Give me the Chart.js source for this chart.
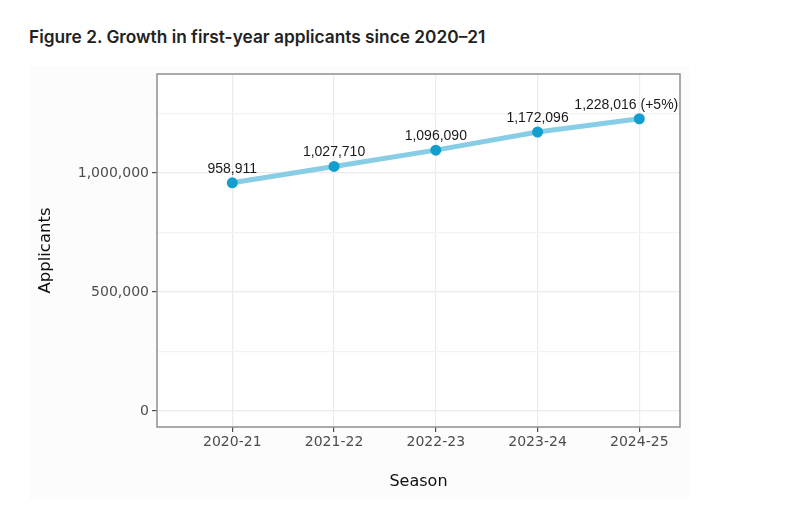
<!DOCTYPE html>
<html>
<head>
<meta charset="utf-8">
<script src="https://cdn.jsdelivr.net/npm/chart.js@4.4.1/dist/chart.umd.min.js"></script>
<style>
  body { margin: 0; background: #ffffff; }
  #title {
    position: absolute; left: 29px; top: 26px;
    font-family: "Inter", sans-serif; font-weight: 600; font-size: 17.3px;
    color: #222222; white-space: nowrap;
  }
  #figbg {
    position: absolute; left: 29px; top: 66px; width: 660px; height: 433px;
    background: #fcfcfc;
  }
  #wrap { position: absolute; left: 0; top: 0; width: 786px; height: 511px; }
</style>
</head>
<body>
<div id="title">Figure 2. Growth in first-year applicants since 2020–21</div>
<div id="figbg"></div>
<div id="wrap"><canvas id="chart" width="786" height="511"></canvas></div>
<script>
// Data
const seasons = ['2020-21', '2021-22', '2022-23', '2023-24', '2024-25'];
const applicants = [958911, 1027710, 1096090, 1172096, 1228016];
const pointLabels = ['958,911', '1,027,710', '1,096,090', '1,172,096', '1,228,016 (+5%)'];
const yTickValues = [0, 250000, 500000, 750000, 1000000, 1250000];
const yMajorTicks = [0, 500000, 1000000];

// panel background + border (ggplot-ish look)
const panelPlugin = {
    id: 'panel',
    beforeDraw(chart) {
        const a = chart.chartArea;
        const ctx = chart.ctx;
        ctx.save();
        ctx.fillStyle = '#ffffff';
        ctx.fillRect(a.left, a.top, a.right - a.left, a.bottom - a.top);
        ctx.restore();
    },
    afterDraw(chart) {
        const a = chart.chartArea;
        const ctx = chart.ctx;
        ctx.save();
        ctx.strokeStyle = '#8f8f8f';
        ctx.lineWidth = 1.5;
        ctx.strokeRect(a.left, a.top, a.right - a.left, a.bottom - a.top);
        ctx.restore();
    }
};

// value labels above each point
const labelPlugin = {
    id: 'pointLabels',
    afterDatasetsDraw(chart) {
        const ctx = chart.ctx;
        const pts = chart.getDatasetMeta(0).data;
        ctx.save();
        ctx.font = '14px "Liberation Sans", Arial, sans-serif';
        ctx.fillStyle = '#1a1a1a';
        ctx.textAlign = 'center';
        ctx.textBaseline = 'alphabetic';
        pts.forEach((p, i) => {
            let x = p.x;
            // keep the long last label inside the panel
            if (i === pts.length - 1) x -= 13;
            ctx.fillText(pointLabels[i], x, p.y - 10);
        });
        ctx.restore();
    }
};

const ctx = document.getElementById('chart').getContext('2d');
new Chart(ctx, {
    type: 'line',
    data: {
        datasets: [{
            data: applicants.map((v, i) => ({ x: i, y: v })),
            borderColor: '#87cde6',
            borderWidth: 5,
            pointRadius: 5.5,
            pointHoverRadius: 5.5,
            pointBackgroundColor: '#139fcd',
            pointBorderWidth: 0,
            tension: 0
        }]
    },
    options: {
        responsive: false,
        animation: false,
        layout: { padding: { left: 30, top: 74, right: 106, bottom: 20 } },
        plugins: {
            legend: { display: false },
            tooltip: { enabled: false }
        },
        scales: {
            x: {
                type: 'linear',
                min: -0.74,
                max: 4.40,
                afterBuildTicks: (scale) => {
                    scale.ticks = seasons.map((s, i) => ({ value: i }));
                },
                afterFit: (scale) => { scale.height = 64; },
                ticks: {
                    autoSkip: false,
                    maxRotation: 0,
                    padding: 2,
                    color: '#4d4d4d',
                    font: { family: '"DejaVu Sans", sans-serif', size: 14 },
                    callback: (v) => seasons[v] ?? ''
                },
                grid: {
                    color: '#ebebeb',
                    lineWidth: 1.2,
                    tickLength: 5,
                    tickColor: '#4d4d4d',
                    tickWidth: 1.2
                },
                border: { display: false },
                title: {
                    display: true,
                    text: 'Season',
                    color: '#111111',
                    font: { family: '"DejaVu Sans", sans-serif', size: 16 },
                    padding: { top: 0, bottom: 0 }
                }
            },
            y: {
                min: -67000,
                max: 1416000,
                afterBuildTicks: (scale) => {
                    scale.ticks = yTickValues.map(v => ({ value: v }));
                },
                afterFit: (scale) => { scale.width = 127; },
                ticks: {
                    padding: 3,
                    color: '#4d4d4d',
                    font: { family: '"DejaVu Sans", sans-serif', size: 14 },
                    callback: (v) => yMajorTicks.includes(v) ? v.toLocaleString('en-US') : ''
                },
                grid: {
                    color: (c) => yMajorTicks.includes(c.tick && c.tick.value) ? '#ebebeb' : '#f3f3f3',
                    lineWidth: 1.2,
                    tickLength: 5,
                    tickColor: (c) => yMajorTicks.includes(c.tick && c.tick.value) ? '#4d4d4d' : 'rgba(0,0,0,0)',
                    tickWidth: 1.2
                },
                border: { display: false },
                title: {
                    display: true,
                    text: 'Applicants',
                    color: '#111111',
                    font: { family: '"DejaVu Sans", sans-serif', size: 16.5 },
                    padding: { top: 6, bottom: 0 }
                }
            }
        }
    },
    plugins: [panelPlugin, labelPlugin]
});
</script>
</body>
</html>
